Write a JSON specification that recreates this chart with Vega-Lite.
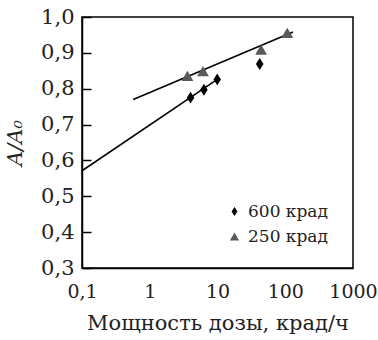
{
  "$schema": "https://vega.github.io/schema/vega-lite/v6.json",
  "autosize": {"type": "none"},
  "padding": {"left": 82, "top": 17, "right": 25, "bottom": 72},
  "width": 271,
  "height": 251,
  "background": "white",
  "config": {
    "view": {"stroke": "black", "strokeWidth": 1.5},
    "font": "DejaVu Serif",
    "axis": {
      "labelFont": "DejaVu Serif",
      "titleFont": "DejaVu Serif",
      "labelFontSize": 19,
      "titleFontSize": 19,
      "labelColor": "#222",
      "titleColor": "#222",
      "titleFontWeight": "normal",
      "labelOverlap": false,
      "grid": false,
      "domainColor": "black",
      "domainWidth": 1.5,
      "tickColor": "black",
      "tickWidth": 1.5
    }
  },
  "datasets": {
    "points": [
      {"series": "600 крад", "dose": 4.0, "ratio": 0.775},
      {"series": "600 крад", "dose": 6.3, "ratio": 0.797},
      {"series": "600 крад", "dose": 9.9, "ratio": 0.826},
      {"series": "600 крад", "dose": 42, "ratio": 0.869},
      {"series": "250 крад", "dose": 3.6, "ratio": 0.836},
      {"series": "250 крад", "dose": 6.1, "ratio": 0.849},
      {"series": "250 крад", "dose": 44, "ratio": 0.909},
      {"series": "250 крад", "dose": 107, "ratio": 0.956}
    ],
    "fits": [
      {"fit": "600 крад", "dose": 0.1, "ratio": 0.571},
      {"fit": "600 крад", "dose": 9.9, "ratio": 0.826},
      {"fit": "250 крад", "dose": 0.57, "ratio": 0.77},
      {"fit": "250 крад", "dose": 130, "ratio": 0.958}
    ]
  },
  "encoding": {
    "x": {
      "field": "dose",
      "type": "quantitative",
      "scale": {"type": "log", "domain": [0.1, 1000], "nice": false},
      "axis": {
        "title": "Мощность дозы, крад/ч",
        "titleFontSize": 21,
        "values": [0.1, 1, 10, 100, 1000],
        "labelExpr": "datum.value == 0.1 ? '0,1' : format(datum.value, 'd')",
        "ticks": false,
        "labelOverlap": false,
        "labelPadding": 14,
        "titlePadding": 11,
        "labelFlush": false
      }
    },
    "y": {
      "field": "ratio",
      "type": "quantitative",
      "scale": {"domain": [0.3, 1.0], "nice": false, "zero": false},
      "axis": {
        "title": "A/A₀",
        "titleFontStyle": "italic",
        "titleFontSize": 21,
        "labelFontSize": 21,
        "values": [0.3, 0.4, 0.5, 0.6, 0.7, 0.8, 0.9, 1.0],
        "labelExpr": "replace(format(datum.value, '.1f'), '.', ',')",
        "labelOverlap": false,
        "labelFlush": false,
        "tickSize": -9,
        "labelPadding": 17,
        "titlePadding": 15
      }
    }
  },
  "layer": [
    {
      "data": {"name": "fits"},
      "mark": {"type": "line", "color": "black", "strokeWidth": 1.6, "clip": true},
      "encoding": {
        "detail": {"field": "fit"}
      }
    },
    {
      "data": {"name": "points"},
      "mark": {"type": "point", "filled": true, "opacity": 1},
      "encoding": {
        "shape": {
          "field": "series",
          "type": "nominal",
          "scale": {
            "domain": ["600 крад", "250 крад"],
            "range": ["M0,-1L0.64,0L0,1L-0.64,0Z", "triangle-up"]
          },
          "legend": {
            "title": null,
            "orient": "none",
            "legendX": 144,
            "legendY": 186,
            "labelFont": "DejaVu Serif",
            "labelFontSize": 17,
            "labelColor": "#222",
            "symbolSize": 85,
            "rowPadding": 7,
            "labelOffset": 5
          }
        },
        "color": {
          "field": "series",
          "type": "nominal",
          "scale": {"domain": ["600 крад", "250 крад"], "range": ["#000000", "#595959"]}
        },
        "size": {"value": 140}
      }
    }
  ]
}
